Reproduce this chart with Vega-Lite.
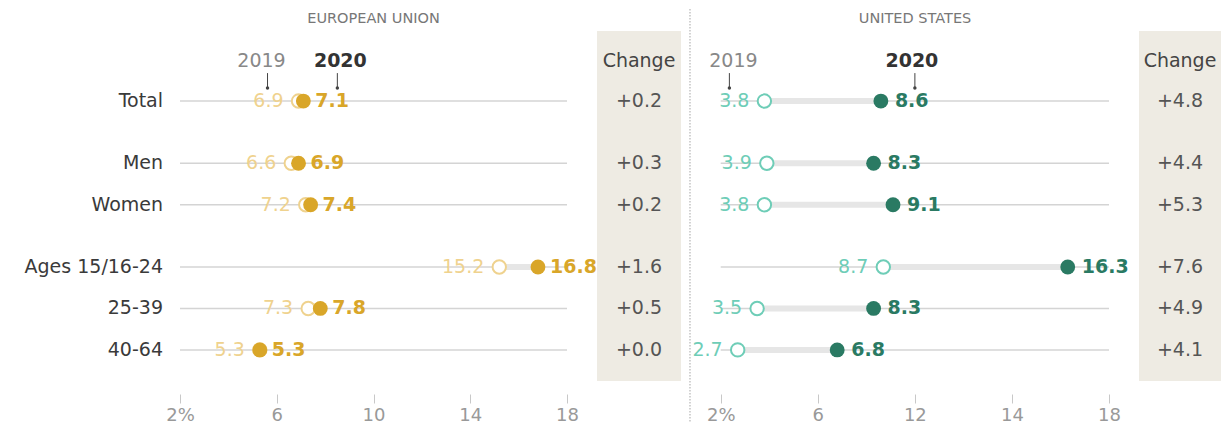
{
  "$schema": "https://vega.github.io/schema/vega-lite/v6.json",
  "autosize": {"type": "pad"},
  "padding": {"left": 24, "top": 8, "right": 0, "bottom": 0},
  "bounds": "flush",
  "spacing": 30,
  "config": {"view": {"stroke": null}, "font": "DejaVu Sans", "text": {"font": "DejaVu Sans"}, "title": {"font": "DejaVu Sans"},
    "axisX": {"labelFont": "DejaVu Sans", "title": null, "domain": false, "grid": false, "offset": 13, "tickSize": 9, "tickColor": "#c8c8c8", "labelPadding": 3, "labelFontSize": 18, "labelColor": "#999", "labelFlush": false}},
  "datasets": {
    "d": [
      {"region": "EU", "group": "Total", "row": 0, "y2019": 6.9, "y2020": 7.1, "change": "+0.2"},
      {"region": "EU", "group": "Men", "row": 1.5, "y2019": 6.6, "y2020": 6.9, "change": "+0.3"},
      {"region": "EU", "group": "Women", "row": 2.5, "y2019": 7.2, "y2020": 7.4, "change": "+0.2"},
      {"region": "EU", "group": "Ages 15/16-24", "row": 4, "y2019": 15.2, "y2020": 16.8, "change": "+1.6"},
      {"region": "EU", "group": "25-39", "row": 5, "y2019": 7.3, "y2020": 7.8, "change": "+0.5"},
      {"region": "EU", "group": "40-64", "row": 6, "y2019": 5.3, "y2020": 5.3, "change": "+0.0"},
      {"region": "US", "group": "Total", "row": 0, "y2019": 3.8, "y2020": 8.6, "change": "+4.8"},
      {"region": "US", "group": "Men", "row": 1.5, "y2019": 3.9, "y2020": 8.3, "change": "+4.4"},
      {"region": "US", "group": "Women", "row": 2.5, "y2019": 3.8, "y2020": 9.1, "change": "+5.3"},
      {"region": "US", "group": "Ages 15/16-24", "row": 4, "y2019": 8.7, "y2020": 16.3, "change": "+7.6"},
      {"region": "US", "group": "25-39", "row": 5, "y2019": 3.5, "y2020": 8.3, "change": "+4.9"},
      {"region": "US", "group": "40-64", "row": 6, "y2019": 2.7, "y2020": 6.8, "change": "+4.1"}
    ]
  },
  "hconcat": [
    {
      "width": 387, "height": 350,
      "title": {"text": "EUROPEAN UNION", "fontSize": 14.5, "fontWeight": "normal", "color": "#777", "offset": 5, "anchor": "middle", "frame": "group"},
      "data": {"name": "d"},
      "transform": [{"filter": "datum.region == 'EU'"}],
      "encoding": {"y": {"field": "row", "type": "quantitative", "scale": {"domain": [-1.69, 6.75], "reverse": true, "nice": false, "zero": false}, "axis": null}},
      "layer": [
        {"mark": {"type": "rule", "color": "#d4d4d4", "strokeWidth": 1.5},
         "encoding": {"x": {"datum": 2, "scale": {"domain": [2, 18], "nice": false, "zero": false},
           "axis": {"title": null, "values": [2, 6, 10, 14, 18], "labelExpr": "datum.value == 2 ? '2%' : datum.label"}},
           "x2": {"datum": 18}}},
        {"mark": {"type": "rule", "color": "#e6e6e6", "strokeWidth": 6},
         "encoding": {"x": {"field": "y2019", "type": "quantitative", "title": null, "scale": {"domain": [2, 18], "nice": false, "zero": false}, "axis": {"title": null, "values": [2, 6, 10, 14, 18], "labelExpr": "datum.value == 2 ? '2%' : datum.label"}}, "x2": {"field": "y2020"}}},
        {"mark": {"type": "circle", "fill": "#ffffff", "stroke": "#EFD28E", "strokeWidth": 2, "size": 180, "opacity": 1},
         "encoding": {"x": {"field": "y2019", "type": "quantitative", "title": null, "axis": {"title": null, "values": [2, 6, 10, 14, 18], "labelExpr": "datum.value == 2 ? '2%' : datum.label"}}}},
        {"mark": {"type": "circle", "color": "#D9A629", "size": 220, "opacity": 1},
         "encoding": {"x": {"field": "y2020", "type": "quantitative", "title": null, "axis": {"title": null, "values": [2, 6, 10, 14, 18], "labelExpr": "datum.value == 2 ? '2%' : datum.label"}}}},
        {"mark": {"type": "text", "align": "right", "dx": -15, "fontSize": 19, "color": "#EFD28E"},
         "encoding": {"x": {"field": "y2019", "type": "quantitative", "title": null, "axis": {"title": null, "values": [2, 6, 10, 14, 18], "labelExpr": "datum.value == 2 ? '2%' : datum.label"}}, "text": {"field": "y2019", "format": ".1f"}}},
        {"mark": {"type": "text", "align": "left", "dx": 12, "fontSize": 19, "fontWeight": "bold", "color": "#D9A629"},
         "encoding": {"x": {"field": "y2020", "type": "quantitative", "title": null, "axis": {"title": null, "values": [2, 6, 10, 14, 18], "labelExpr": "datum.value == 2 ? '2%' : datum.label"}}, "text": {"field": "y2020", "format": ".1f"}}},
        {"mark": {"type": "text", "align": "right", "dx": -17, "fontSize": 19, "color": "#3a3a3a"},
         "encoding": {"x": {"datum": 2}, "text": {"field": "group"}}},
        {"transform": [{"filter": "datum.row == 0"}],
         "mark": {"type": "text", "align": "center", "dx": -37, "dy": -40, "fontSize": 19, "color": "#888", "text": "2019"},
         "encoding": {"x": {"field": "y2019", "type": "quantitative", "title": null, "axis": {"title": null, "values": [2, 6, 10, 14, 18], "labelExpr": "datum.value == 2 ? '2%' : datum.label"}}}},
        {"transform": [{"filter": "datum.row == 0"}],
         "mark": {"type": "text", "align": "center", "dx": 37, "dy": -40, "fontSize": 19, "fontWeight": "bold", "color": "#333", "text": "2020"},
         "encoding": {"x": {"field": "y2020", "type": "quantitative", "title": null, "axis": {"title": null, "values": [2, 6, 10, 14, 18], "labelExpr": "datum.value == 2 ? '2%' : datum.label"}}}},
        {"transform": [{"filter": "datum.row == 0"}],
         "mark": {"type": "rule", "color": "#444", "strokeWidth": 1, "xOffset": -31, "yOffset": -28, "y2Offset": -14},
         "encoding": {"x": {"field": "y2019", "type": "quantitative", "title": null, "axis": {"title": null, "values": [2, 6, 10, 14, 18], "labelExpr": "datum.value == 2 ? '2%' : datum.label"}}, "y2": {"field": "row"}}},
        {"transform": [{"filter": "datum.row == 0"}],
         "mark": {"type": "rule", "color": "#444", "strokeWidth": 1, "xOffset": 34, "yOffset": -28, "y2Offset": -14},
         "encoding": {"x": {"field": "y2020", "type": "quantitative", "title": null, "axis": {"title": null, "values": [2, 6, 10, 14, 18], "labelExpr": "datum.value == 2 ? '2%' : datum.label"}}, "y2": {"field": "row"}}},
        {"transform": [{"filter": "datum.row == 0"}],
         "mark": {"type": "point", "shape": "circle", "filled": true, "color": "#444", "size": 12, "opacity": 1, "xOffset": -31, "yOffset": -13},
         "encoding": {"x": {"field": "y2019", "type": "quantitative", "title": null, "axis": {"title": null, "values": [2, 6, 10, 14, 18], "labelExpr": "datum.value == 2 ? '2%' : datum.label"}}}},
        {"transform": [{"filter": "datum.row == 0"}],
         "mark": {"type": "point", "shape": "circle", "filled": true, "color": "#444", "size": 12, "opacity": 1, "xOffset": 34, "yOffset": -13},
         "encoding": {"x": {"field": "y2020", "type": "quantitative", "title": null, "axis": {"title": null, "values": [2, 6, 10, 14, 18], "labelExpr": "datum.value == 2 ? '2%' : datum.label"}}}}
      ]
    },
    {
      "width": 84, "height": 350,
      "view": {"fill": "#EEEBE3", "stroke": null},
      "data": {"name": "d"},
      "transform": [{"filter": "datum.region == 'EU'"}],
      "encoding": {"y": {"field": "row", "type": "quantitative", "scale": {"domain": [-1.69, 6.75], "reverse": true, "nice": false, "zero": false}, "axis": null}},
      "layer": [
        {"mark": {"type": "text", "fontSize": 19, "color": "#555"}, "encoding": {"text": {"field": "change"}}},
        {"transform": [{"filter": "datum.row == 0"}], "mark": {"type": "text", "fontSize": 19, "color": "#444", "dy": -40, "text": "Change"}},
        {"transform": [{"filter": "datum.row == 0"}],
         "mark": {"type": "rule", "color": "#c4c4c4", "strokeWidth": 1.5, "strokeDash": [1.5, 1.5]},
         "encoding": {"x": {"datum": 1.107, "scale": {"domain": [0, 1], "nice": false, "zero": false}, "axis": null}, "y": {"datum": -2.22}, "y2": {"datum": 7.85}}}
      ]
    },
    {
      "width": 398, "height": 350,
      "title": {"text": "UNITED STATES", "fontSize": 14.5, "fontWeight": "normal", "color": "#777", "offset": 5, "anchor": "middle", "dx": 5, "frame": "group"},
      "data": {"name": "d"},
      "transform": [{"filter": "datum.region == 'US'"}],
      "encoding": {"y": {"field": "row", "type": "quantitative", "scale": {"domain": [-1.69, 6.75], "reverse": true, "nice": false, "zero": false}, "axis": null}},
      "layer": [
        {"mark": {"type": "rule", "color": "#d4d4d4", "strokeWidth": 1.5},
         "encoding": {"x": {"datum": 2, "scale": {"domain": [1.6, 18], "nice": false, "zero": false},
           "axis": {"title": null, "values": [2, 6, 10, 14, 18], "labelExpr": "datum.value == 2 ? '2%' : datum.value == 10 ? '12' : datum.label"}},
           "x2": {"datum": 18}}},
        {"mark": {"type": "rule", "color": "#e6e6e6", "strokeWidth": 6},
         "encoding": {"x": {"field": "y2019", "type": "quantitative", "title": null, "scale": {"domain": [1.6, 18], "nice": false, "zero": false}, "axis": {"title": null, "values": [2, 6, 10, 14, 18], "labelExpr": "datum.value == 2 ? '2%' : datum.value == 10 ? '12' : datum.label"}}, "x2": {"field": "y2020"}}},
        {"mark": {"type": "circle", "fill": "#ffffff", "stroke": "#6ECDB7", "strokeWidth": 2, "size": 180, "opacity": 1},
         "encoding": {"x": {"field": "y2019", "type": "quantitative", "title": null, "axis": {"title": null, "values": [2, 6, 10, 14, 18], "labelExpr": "datum.value == 2 ? '2%' : datum.value == 10 ? '12' : datum.label"}}}},
        {"mark": {"type": "circle", "color": "#2A7A63", "size": 220, "opacity": 1},
         "encoding": {"x": {"field": "y2020", "type": "quantitative", "title": null, "axis": {"title": null, "values": [2, 6, 10, 14, 18], "labelExpr": "datum.value == 2 ? '2%' : datum.value == 10 ? '12' : datum.label"}}}},
        {"mark": {"type": "text", "align": "right", "dx": -15, "fontSize": 19, "color": "#6ECDB7"},
         "encoding": {"x": {"field": "y2019", "type": "quantitative", "title": null, "axis": {"title": null, "values": [2, 6, 10, 14, 18], "labelExpr": "datum.value == 2 ? '2%' : datum.value == 10 ? '12' : datum.label"}}, "text": {"field": "y2019", "format": ".1f"}}},
        {"mark": {"type": "text", "align": "left", "dx": 14, "fontSize": 19, "fontWeight": "bold", "color": "#2A7A63"},
         "encoding": {"x": {"field": "y2020", "type": "quantitative", "title": null, "axis": {"title": null, "values": [2, 6, 10, 14, 18], "labelExpr": "datum.value == 2 ? '2%' : datum.value == 10 ? '12' : datum.label"}}, "text": {"field": "y2020", "format": ".1f"}}},
        {"transform": [{"filter": "datum.row == 0"}],
         "mark": {"type": "text", "align": "center", "dx": -31, "dy": -40, "fontSize": 19, "color": "#888", "text": "2019"},
         "encoding": {"x": {"field": "y2019", "type": "quantitative", "title": null, "axis": {"title": null, "values": [2, 6, 10, 14, 18], "labelExpr": "datum.value == 2 ? '2%' : datum.value == 10 ? '12' : datum.label"}}}},
        {"transform": [{"filter": "datum.row == 0"}],
         "mark": {"type": "text", "align": "center", "dx": 31, "dy": -40, "fontSize": 19, "fontWeight": "bold", "color": "#333", "text": "2020"},
         "encoding": {"x": {"field": "y2020", "type": "quantitative", "title": null, "axis": {"title": null, "values": [2, 6, 10, 14, 18], "labelExpr": "datum.value == 2 ? '2%' : datum.value == 10 ? '12' : datum.label"}}}},
        {"transform": [{"filter": "datum.row == 0"}],
         "mark": {"type": "rule", "color": "#444", "strokeWidth": 1, "xOffset": -35, "yOffset": -28, "y2Offset": -14},
         "encoding": {"x": {"field": "y2019", "type": "quantitative", "title": null, "axis": {"title": null, "values": [2, 6, 10, 14, 18], "labelExpr": "datum.value == 2 ? '2%' : datum.value == 10 ? '12' : datum.label"}}, "y2": {"field": "row"}}},
        {"transform": [{"filter": "datum.row == 0"}],
         "mark": {"type": "rule", "color": "#444", "strokeWidth": 1, "xOffset": 34, "yOffset": -28, "y2Offset": -14},
         "encoding": {"x": {"field": "y2020", "type": "quantitative", "title": null, "axis": {"title": null, "values": [2, 6, 10, 14, 18], "labelExpr": "datum.value == 2 ? '2%' : datum.value == 10 ? '12' : datum.label"}}, "y2": {"field": "row"}}},
        {"transform": [{"filter": "datum.row == 0"}],
         "mark": {"type": "point", "shape": "circle", "filled": true, "color": "#444", "size": 12, "opacity": 1, "xOffset": -35, "yOffset": -13},
         "encoding": {"x": {"field": "y2019", "type": "quantitative", "title": null, "axis": {"title": null, "values": [2, 6, 10, 14, 18], "labelExpr": "datum.value == 2 ? '2%' : datum.value == 10 ? '12' : datum.label"}}}},
        {"transform": [{"filter": "datum.row == 0"}],
         "mark": {"type": "point", "shape": "circle", "filled": true, "color": "#444", "size": 12, "opacity": 1, "xOffset": 34, "yOffset": -13},
         "encoding": {"x": {"field": "y2020", "type": "quantitative", "title": null, "axis": {"title": null, "values": [2, 6, 10, 14, 18], "labelExpr": "datum.value == 2 ? '2%' : datum.value == 10 ? '12' : datum.label"}}}}
      ]
    },
    {
      "width": 82, "height": 350,
      "view": {"fill": "#EEEBE3", "stroke": null},
      "data": {"name": "d"},
      "transform": [{"filter": "datum.region == 'US'"}],
      "encoding": {"y": {"field": "row", "type": "quantitative", "scale": {"domain": [-1.69, 6.75], "reverse": true, "nice": false, "zero": false}, "axis": null}},
      "layer": [
        {"mark": {"type": "text", "fontSize": 19, "color": "#555"}, "encoding": {"text": {"field": "change"}}},
        {"transform": [{"filter": "datum.row == 0"}], "mark": {"type": "text", "fontSize": 19, "color": "#444", "dy": -40, "text": "Change"}}
      ]
    }
  ]
}
